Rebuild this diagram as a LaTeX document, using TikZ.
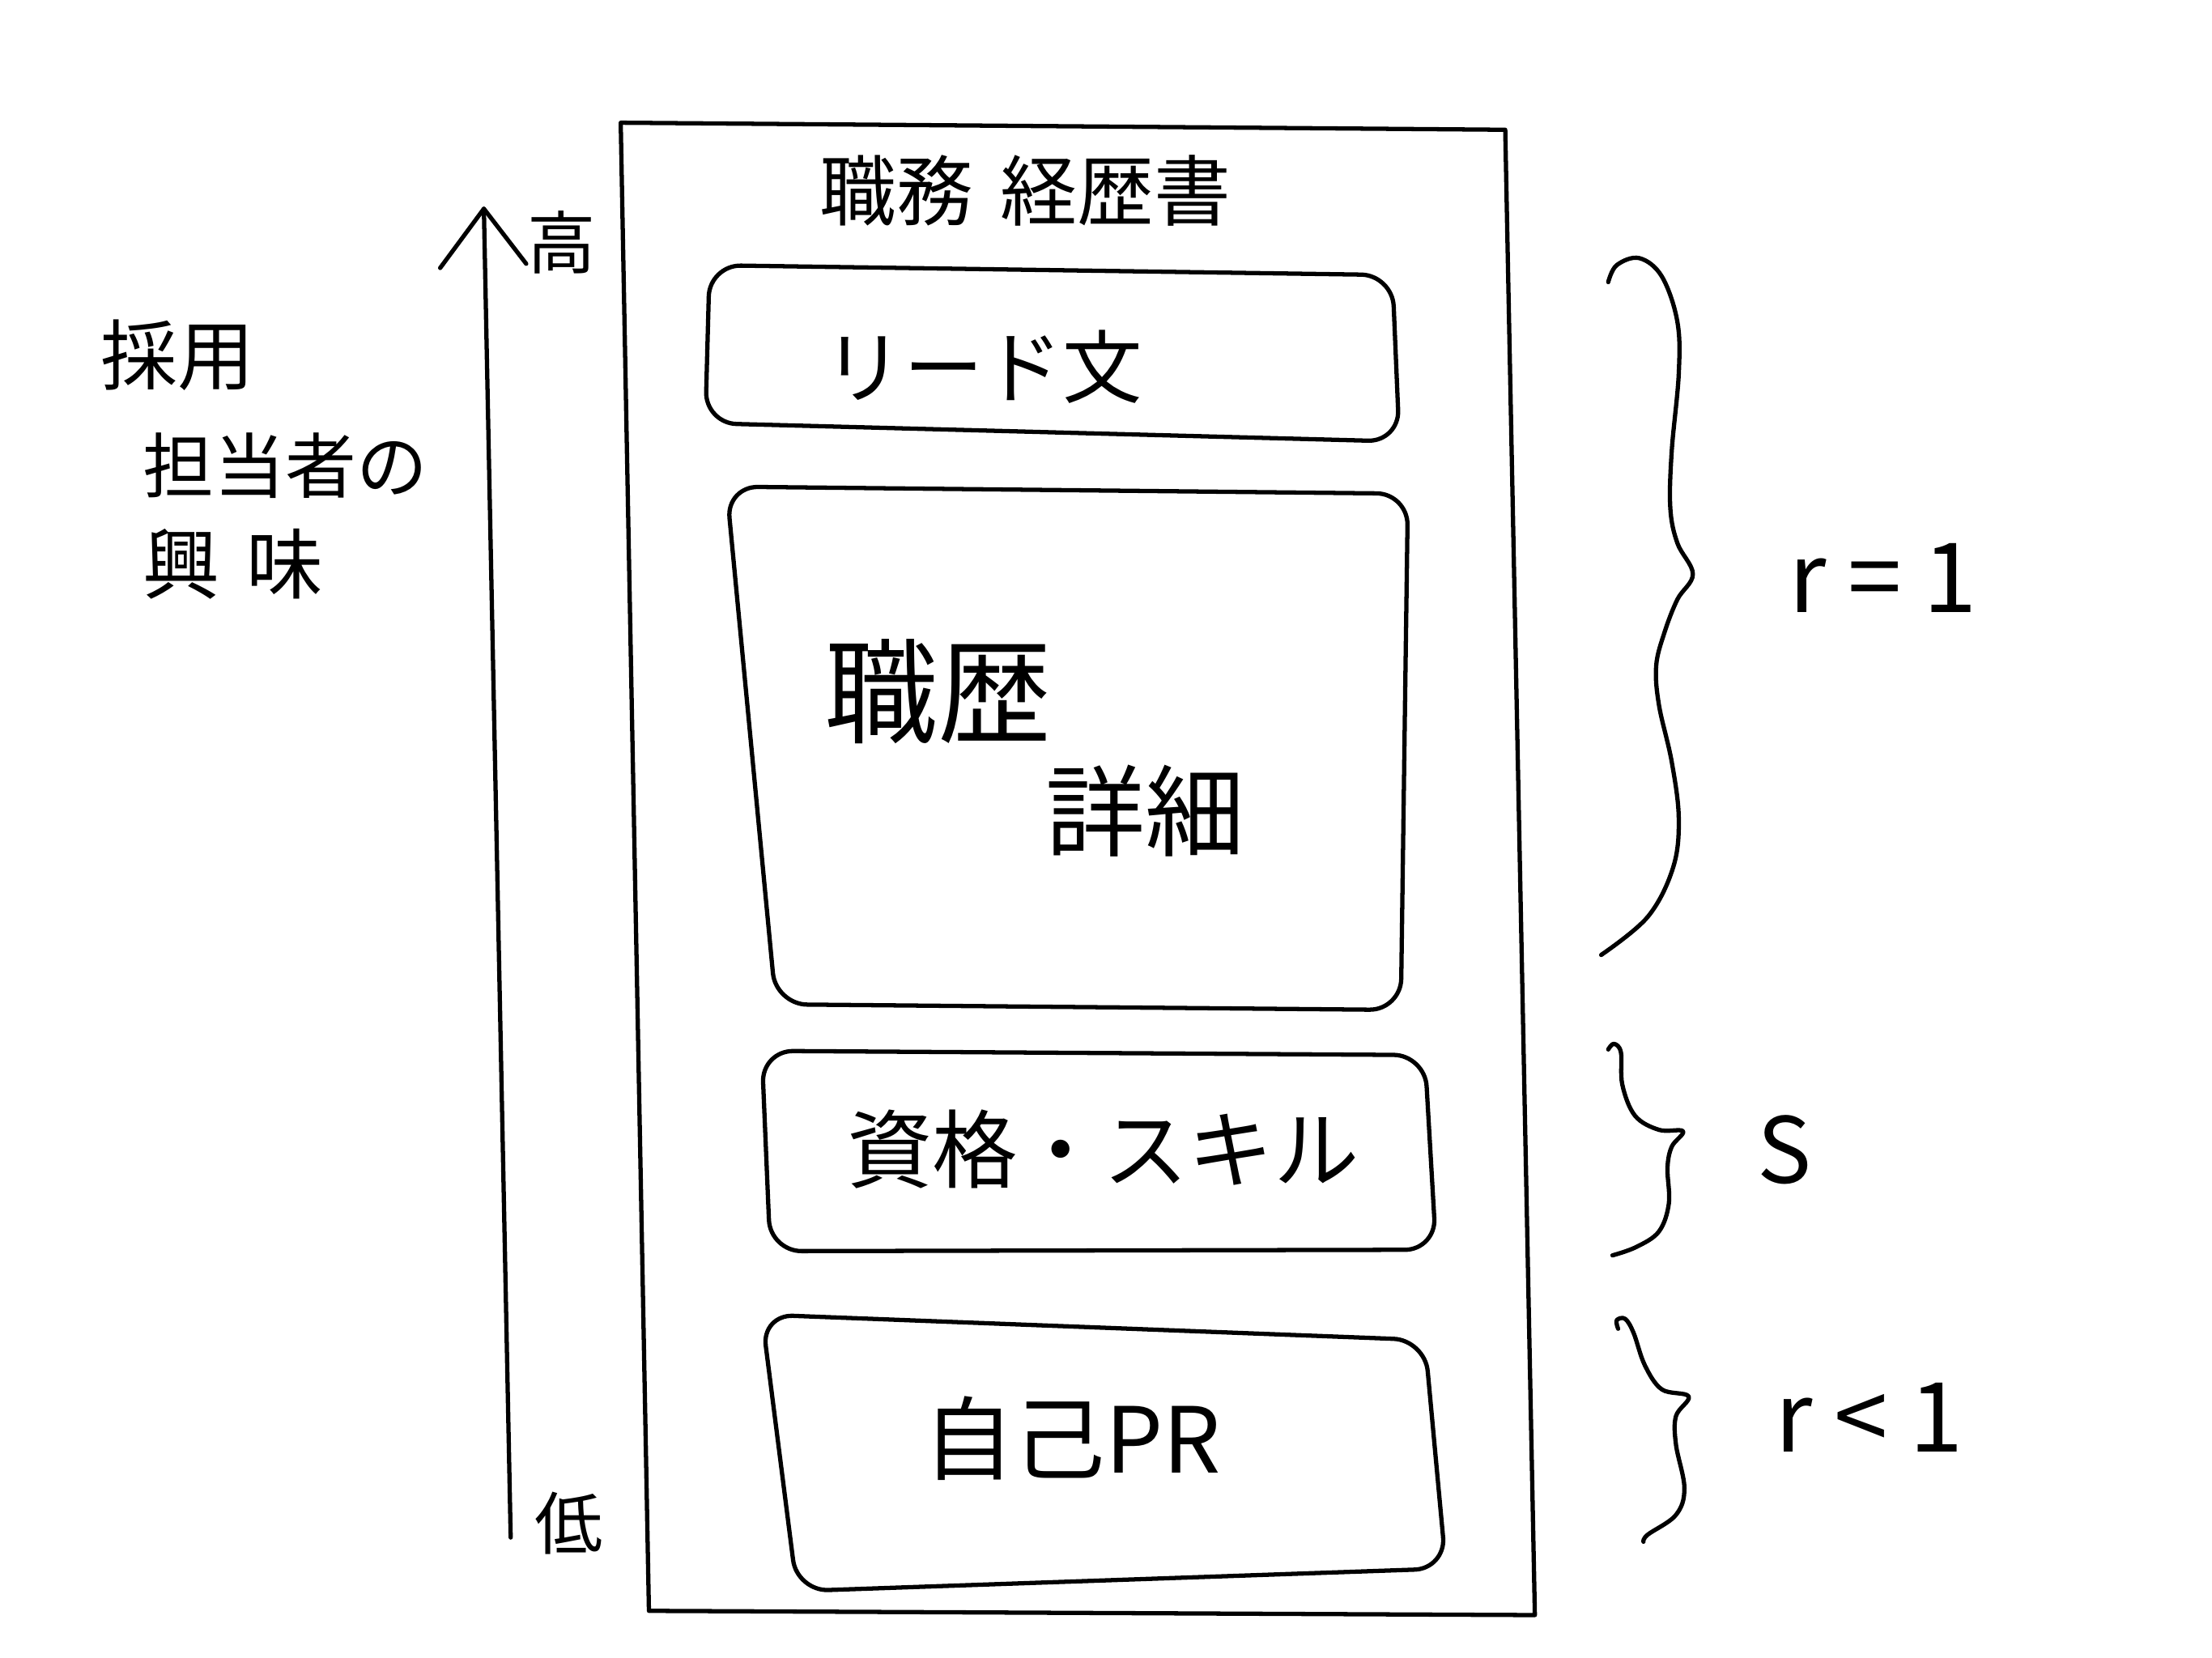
\documentclass[tikz,border=0pt]{standalone}
\usepackage{fontspec}
\setmainfont{Noto Sans CJK JP}
\begin{document}
\begin{tikzpicture}[x=0.017423cm,y=-0.017423cm,
  line width=1.5pt, line join=round, line cap=round,
  txt/.style={inner sep=0pt, font=\fontsize{#1}{#1}\selectfont},
  boxline/.style={draw, rounded corners=11pt},
  bracepath/.style={draw, line width=1.5pt}]
\useasboundingbox (0,0) rectangle (1568,1175);
\fill[white] (0,0) rectangle (1568,1175);

% document outline
\draw (440,87) -- (1067,92) -- (1088,1145) -- (460,1142) -- cycle;
\node[txt=27pt] (title) at (727,135) {職務\hspace{0.35em}経歴書};

% sections
\draw[boxline] (500,300) -- (503,188) -- (987,195) -- (992,313) -- cycle;
\node[txt=28pt] (lead) at (697,260) {リード文};

\draw[boxline] (550,712) -- (515,345) -- (998,350) -- (993,716) -- cycle;
\node[txt=40pt] (career1) at (665,490) {職歴};
\node[txt=35pt] (career2) at (812,575) {詳細};

\draw[boxline] (546,887) -- (540,745) -- (1010,748) -- (1018,886) -- cycle;
\node[txt=30pt] (skill) at (782,815) {資格・スキル};

\draw[boxline] (565,1128) -- (540,932) -- (1010,950) -- (1025,1112) -- cycle;
\node[txt=32pt] (pr) at (760,1020) {自己PR};

% interest axis
\coordinate (atop) at (343,148);
\coordinate (abot) at (362,1090);
\coordinate (wl) at (312,190);
\coordinate (wr) at (373,187);
\draw (atop) -- (abot);
\draw (wl) -- (atop) -- (wr);
\node[txt=24pt] (high) at (398,172) {高};
\node[txt=24pt] (low) at (403,1080) {低};

\node[txt=27pt, anchor=west] (i1) at (70,252) {採用};
\node[txt=25pt, anchor=west] (i2) at (100,330) {担当者の};
\node[txt=27pt, anchor=west] (i3) at (100,400) {興\hspace{0.35em}味};

% braces
\draw[bracepath] plot[smooth, tension=0.6] coordinates {
 (1140,200) (1146,188) (1162,183) (1178,196) (1189,228) (1190,265)
 (1185,320) (1184,360) (1189,385) (1200,407) (1189,425) (1180,448)
 (1174,472) (1176,500) (1185,540) (1190,580) (1186,615) (1168,650) (1135,677)};
\draw[bracepath] plot[smooth, tension=0.6] coordinates {
 (1140,744) (1144,740) (1149,746) (1150,769) (1159,791) (1176,801) (1193,802)
 (1185,813) (1182,828) (1183,853) (1176,873) (1160,884) (1143,890)};
\draw[bracepath] plot[smooth, tension=0.6] coordinates {
 (1147,942) (1146,936) (1152,935) (1158,945) (1166,968) (1178,985) (1197,990)
 (1188,1004) (1188,1024) (1194,1055) (1188,1074) (1168,1088) (1165,1093)};

\node[txt=34pt] (r1) at (1335,410) {r = 1};
\node[txt=32pt] (s) at (1265,815) {S};
\node[txt=34pt] (r2) at (1325,1005) {r < 1};
\end{tikzpicture}
\end{document}
